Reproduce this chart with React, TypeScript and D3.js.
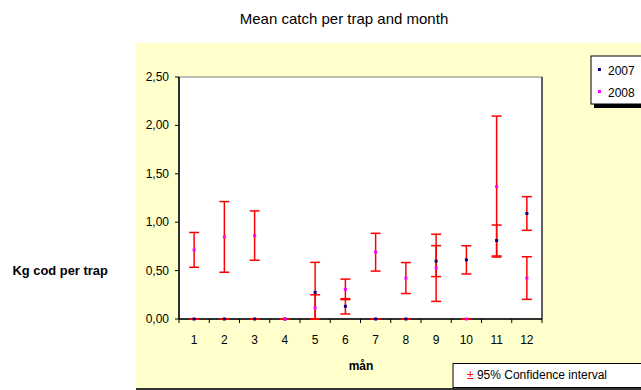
import React from 'react';
import * as d3 from 'd3';

const months = ['1', '2', '3', '4', '5', '6', '7', '8', '9', '10', '11', '12'];
const mean2007 = [0, 0, 0, 0, 0.275, 0.131, 0, 0, 0.598, 0.611, 0.811, 1.09];
const ci2007 = [0, 0, 0, 0, 0.31, 0.079, 0, 0, 0.16, 0.146, 0.16, 0.174];
const mean2008 = [0.714, 0.848, 0.862, 0, 0.117, 0.306, 0.69, 0.423, 0.529, 0, 1.368, 0.423];
const ci2008 = [0.18, 0.365, 0.255, 0, 0.133, 0.106, 0.195, 0.16, 0.347, 0, 0.728, 0.22];
const yTicks = [0, 0.5, 1, 1.5, 2, 2.5];

const font = 'Arial, "Liberation Sans", sans-serif';

function App() {
  const plot = { left: 179, right: 542, top: 77, bottom: 319 };

  const x = d3.scaleBand().domain(months).range([plot.left, plot.right]);
  const y = d3.scaleLinear().domain([0, 2.5]).range([plot.bottom, plot.top]);
  const fmt = (v: number) => d3.format('.2f')(v).replace('.', ',');

  const series = [
    { name: '2007', mean: mean2007, ci: ci2007, color: '#000080' },
    { name: '2008', mean: mean2008, ci: ci2008, color: '#FF00FF' },
  ];

  const cx = (m: string) => (x(m) as number) + x.bandwidth() / 2;

  return (
    <svg
      width={641}
      height={390}
      style={{ position: 'absolute', left: 0, top: 0, fontFamily: font }}
    >
      <rect x={0} y={0} width={641} height={390} fill="#fff" />
      <rect x={136} y={43} width={505} height={345} fill="#FFFFCC" />
      <rect x={136} y={388} width={505} height={2} fill="#333" />

      <text x={344} y={24} textAnchor="middle" fontSize={15}>
        Mean catch per trap and month
      </text>

      <rect
        x={plot.left}
        y={plot.top}
        width={plot.right - plot.left}
        height={plot.bottom - plot.top}
        fill="#fff"
        stroke="#808080"
      />
      <line x1={plot.right} x2={plot.right} y1={plot.top} y2={plot.bottom} stroke="#000" />

      {/* y axis */}
      <line x1={plot.left} x2={plot.left} y1={plot.top} y2={plot.bottom} stroke="#000" strokeWidth={1.5} />
      {yTicks.map((t) => (
        <g key={t}>
          <line x1={plot.left - 4} x2={plot.left} y1={y(t)} y2={y(t)} stroke="#000" />
          <text x={169} y={y(t) + 4} textAnchor="end" fontSize={12}>
            {fmt(t)}
          </text>
        </g>
      ))}

      {/* x axis */}
      <line x1={plot.left} x2={plot.right} y1={plot.bottom} y2={plot.bottom} stroke="#000" strokeWidth={1.5} />
      {months.map((m) => (
        <g key={m}>
          <line x1={x(m) as number} x2={x(m) as number} y1={plot.bottom} y2={plot.bottom + 4} stroke="#000" />
          <text x={cx(m)} y={344} textAnchor="middle" fontSize={12}>
            {m}
          </text>
        </g>
      ))}
      <line x1={plot.right} x2={plot.right} y1={plot.bottom} y2={plot.bottom + 4} stroke="#000" />

      <text x={361} y={370} textAnchor="middle" fontSize={12} fontWeight="bold">
        mån
      </text>
      <text x={12.5} y={275} fontSize={12.9} fontWeight="bold">
        Kg cod per trap
      </text>

      {/* error bars */}
      {series.map((s) =>
        months.map((m, i) => {
          const hi = y(Math.min(2.5, s.mean[i] + s.ci[i]));
          const lo = y(Math.max(0, s.mean[i] - s.ci[i]));
          const c = cx(m);
          return (
            <g key={s.name + m} stroke="#FF0000" strokeWidth={1.5}>
              <line x1={c} x2={c} y1={hi} y2={lo} />
              <line x1={c - 5} x2={c + 5} y1={hi} y2={hi} />
              <line x1={c - 5} x2={c + 5} y1={lo} y2={lo} />
            </g>
          );
        })
      )}

      {/* points */}
      {series.map((s) =>
        months.map((m, i) => (
          <rect
            key={'p' + s.name + m}
            x={cx(m) - 1.5}
            y={y(s.mean[i]) - 1.5}
            width={3}
            height={3}
            fill={s.color}
          />
        ))
      )}

      {/* series legend */}
      <rect x={594} y={60} width={60} height={48} fill="#000" />
      <rect x={591} y={56} width={60} height={48} fill="#fff" stroke="#000" />
      {series.map((s, i) => (
        <g key={'lg' + s.name}>
          <rect x={598} y={68 + i * 22} width={3} height={3} fill={s.color} />
          <text x={608} y={75 + i * 22} fontSize={12}>
            {s.name}
          </text>
        </g>
      ))}

      {/* CI legend */}
      <rect x={453} y={363.5} width={200} height={24} fill="#fff" stroke="#000" />
      <text x={467} y={379} fontSize={12}>
        <tspan fill="#FF0000">±</tspan>
        <tspan> 95% Confidence interval</tspan>
      </text>
    </svg>
  );
}

export default App;
